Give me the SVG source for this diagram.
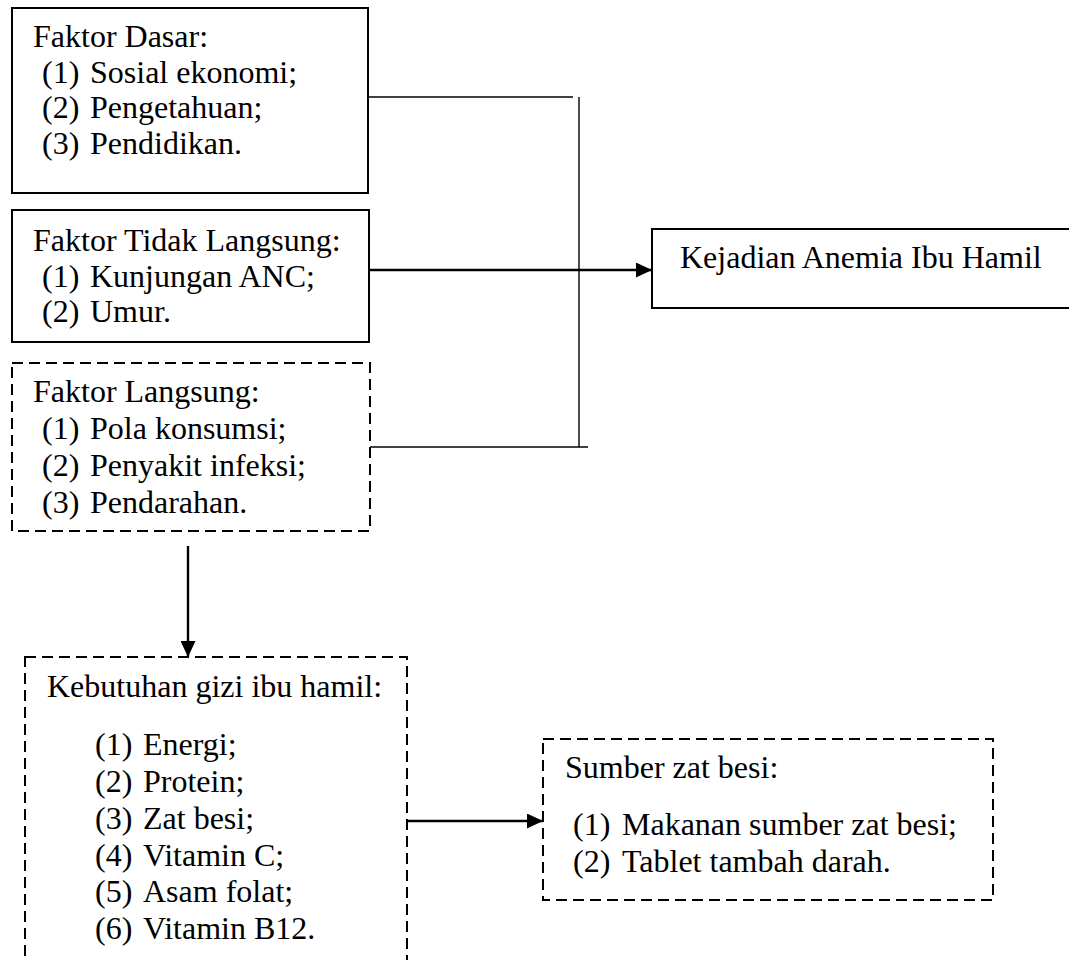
<svg xmlns="http://www.w3.org/2000/svg" width="1069" height="960" viewBox="0 0 1069 960">
<defs>
<style>
.t{font-size:32px;fill:#000}
.box{fill:#fff;stroke:#000;stroke-width:2}
.dash{fill:#fff;stroke:#000;stroke-width:2;stroke-dasharray:11 6}
.thin{stroke:#000;stroke-width:1.4;fill:none}
.arr{stroke:#000;stroke-width:2.4;fill:none;marker-end:url(#ah)}
</style>
<marker id="ah" markerWidth="17" markerHeight="15" refX="16" refY="7.5" orient="auto" markerUnits="userSpaceOnUse">
<path d="M0,0 L16,7.5 L0,15 Z" fill="#000"/>
</marker>
</defs>
<rect width="1069" height="960" fill="#fff"/>
<g id="connectors">
<line class="thin" x1="368" y1="97" x2="573" y2="97"/>
<line class="thin" x1="579" y1="97" x2="579" y2="447"/>
<line class="thin" x1="370" y1="447" x2="588" y2="447"/>
<line class="arr" x1="370" y1="270" x2="652" y2="270"/>
<line class="arr" x1="188" y1="546" x2="188" y2="657"/>
<line class="arr" x1="407" y1="821" x2="543" y2="821"/>
</g>
<g font-family="'Liberation Serif', 'DejaVu Serif', serif">
<g id="faktor-dasar">
<rect class="box" x="12" y="8" width="356" height="185"/>
<text class="t" x="33" y="47">Faktor Dasar:</text>
<text class="t" y="82.5"><tspan x="42">(1)</tspan><tspan x="90">Sosial ekonomi;</tspan></text>
<text class="t" y="118"><tspan x="42">(2)</tspan><tspan x="90">Pengetahuan;</tspan></text>
<text class="t" y="153.5"><tspan x="42">(3)</tspan><tspan x="90">Pendidikan.</tspan></text>
</g>
<g id="faktor-tidak-langsung">
<rect class="box" x="12" y="210" width="357" height="132"/>
<text class="t" x="33" y="251">Faktor Tidak Langsung:</text>
<text class="t" y="287"><tspan x="42">(1)</tspan><tspan x="90">Kunjungan ANC;</tspan></text>
<text class="t" y="322"><tspan x="42">(2)</tspan><tspan x="90">Umur.</tspan></text>
</g>
<g id="faktor-langsung">
<rect class="dash" x="12" y="363" width="358" height="168"/>
<text class="t" x="33" y="402">Faktor Langsung:</text>
<text class="t" y="439"><tspan x="42">(1)</tspan><tspan x="90">Pola konsumsi;</tspan></text>
<text class="t" y="476"><tspan x="42">(2)</tspan><tspan x="90">Penyakit infeksi;</tspan></text>
<text class="t" y="513"><tspan x="42">(3)</tspan><tspan x="90">Pendarahan.</tspan></text>
</g>
<g id="kejadian-anemia">
<rect class="box" x="652" y="229" width="430" height="79"/>
<text class="t" x="680" y="268">Kejadian Anemia Ibu Hamil</text>
</g>
<g id="kebutuhan-gizi">
<rect class="dash" x="25" y="657" width="382" height="320"/>
<text class="t" x="47" y="697">Kebutuhan gizi ibu hamil:</text>
<text class="t" y="755"><tspan x="95">(1)</tspan><tspan x="143">Energi;</tspan></text>
<text class="t" y="792"><tspan x="95">(2)</tspan><tspan x="143">Protein;</tspan></text>
<text class="t" y="828.5"><tspan x="95">(3)</tspan><tspan x="143">Zat besi;</tspan></text>
<text class="t" y="865.5"><tspan x="95">(4)</tspan><tspan x="143">Vitamin C;</tspan></text>
<text class="t" y="902"><tspan x="95">(5)</tspan><tspan x="143">Asam folat;</tspan></text>
<text class="t" y="939"><tspan x="95">(6)</tspan><tspan x="143">Vitamin B12.</tspan></text>
</g>
<g id="sumber-zat-besi">
<rect class="dash" x="543" y="739" width="450" height="161"/>
<text class="t" x="565" y="778">Sumber zat besi:</text>
<text class="t" y="835"><tspan x="573">(1)</tspan><tspan x="622">Makanan sumber zat besi;</tspan></text>
<text class="t" y="872"><tspan x="573">(2)</tspan><tspan x="622">Tablet tambah darah.</tspan></text>
</g>
</g>
</svg>
